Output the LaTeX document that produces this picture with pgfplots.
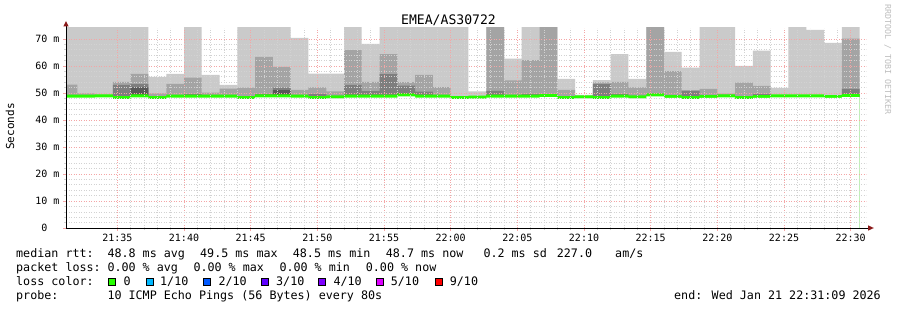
\documentclass[border=0pt]{standalone}
\usepackage{fontspec}
\setmainfont{DejaVu Sans Mono}
\setmonofont{DejaVu Sans Mono}
\usepackage{pgfplots}
\pgfplotsset{compat=1.18}
\usepackage{pgfplotstable}
\definecolor{smokeA}{HTML}{CACACA}
\definecolor{smokeB}{HTML}{A4A4A4}
\definecolor{smokeC}{HTML}{7E7E7E}
\definecolor{smokeD}{HTML}{585858}
\definecolor{lossgreen}{HTML}{26FF00}
\definecolor{gridgray}{HTML}{D2D2D2}
\definecolor{gridred}{HTML}{F4A6A6}
\definecolor{arrowred}{HTML}{8B1A1A}
\definecolor{lossA}{HTML}{00B8FF}
\definecolor{lossB}{HTML}{0059FF}
\definecolor{lossC}{HTML}{5E00FF}
\definecolor{lossD}{HTML}{7E00FF}
\definecolor{lossE}{HTML}{DD00FF}
\definecolor{lossF}{HTML}{FF0000}
\definecolor{wmgray}{HTML}{BDBDBD}
% x = minutes after 21:00; T1..T4 = tops of smoke layers (ms); M = median (ms)
\pgfplotstableread{
x      T1    T2    T3    T4    M
31.15  80    53.1  0     0     48.8
32.00  80    49.9  0     0     48.8
33.33  80    49.4  0     0     48.9
34.67  80    54.1  53.0  0     48.3
36.00  80    57.1  53.3  52.1  48.9
37.33  56.0  49.9  0     0     48.3
38.67  57.1  53.4  0     0     48.8
40.00  80    55.7  49.6  0     48.8
41.33  56.7  50.1  0     0     48.8
42.67  53.0  51.6  0     0     48.8
44.00  80    52.0  0     0     48.3
45.33  80    63.4  49.6  0     48.9
46.67  80    59.7  52.0  51.1  48.9
48.00  70.4  51.2  0     0     48.8
49.33  57.2  52.1  49.6  0     48.3
50.67  57.2  50.6  0     0     48.6
52.00  80    65.9  53.0  0     48.8
53.33  68.2  54.1  50.7  0     48.8
54.67  80    64.4  57.0  0     48.8
56.00  80    54.0  52.7  49.8  49.3
57.33  80    56.7  50.5  0     48.8
58.67  80    52.2  0     0     48.8
60.00  80    0     0     0     48.3
61.33  50.6  0     0     0     48.5
62.67  80    80    50.8  0     48.8
64.00  62.7  54.7  0     0     48.8
65.33  80    62.2  49.6  0     48.8
66.67  80    80    0     0     49.0
68.00  55.2  51.2  0     0     48.3
69.33  49.3  0     0     0     48.6
70.67  54.8  53.9  53.3  0     48.3
72.00  64.4  54.1  49.6  0     48.8
73.33  55.2  52.1  0     0     48.6
74.67  80    80    49.1  0     49.3
76.00  65.2  58.1  0     0     48.7
77.33  59.4  51.1  50.7  0     48.3
78.67  80    51.5  0     0     48.7
80.00  80    49.8  0     0     48.9
81.33  60.0  53.8  0     0     48.3
82.67  65.7  52.6  49.6  0     48.7
84.00  51.9  0     0     0     48.9
85.33  80    0     0     0     48.9
86.67  73.4  0     0     0     48.9
88.00  68.6  0     0     0     48.7
89.33  80    70.1  51.5  0     49.0
90.67  80    70.1  51.5  0     49.0
}\smoke
\begin{document}
\begin{tikzpicture}[x=1bp,y=1bp]
\path[use as bounding box] (0,0) rectangle (897,310);
\begin{axis}[
  at={(66bp,82bp)}, anchor=south west,
  scale only axis, width=800bp, height=200bp,
  xmin=31.15, xmax=91.15, ymin=0, ymax=74.07,
  axis x line*=bottom, axis y line*=left,
  axis line style={line width=0.8bp, black},
  axis on top,
  xtick={35,40,...,90},
  xticklabels={21:35,21:40,21:45,21:50,21:55,22:00,22:05,22:10,22:15,22:20,22:25,22:30},
  minor x tick num=4,
  ytick={0,10,...,70},
  yticklabels={{0\phantom{\ m}},{10\ m},{20\ m},{30\ m},{40\ m},{50\ m},{60\ m},{70\ m}},
  minor y tick num=4,
  grid=both,
  major grid style={draw=gridred, dash pattern=on 1bp off 1.5bp, line width=0.6bp},
  minor grid style={draw=gridgray, dash pattern=on 1bp off 1.5bp, line width=0.6bp},
  tick align=outside,
  major tick length=3bp, minor tick length=2bp,
  major tick style={draw=gridred, line width=0.6bp},
  minor tick style={draw=gridgray, line width=0.6bp},
  xticklabel style={font=\fontsize{10bp}{12bp}\selectfont},
  yticklabel style={font=\fontsize{10bp}{12bp}\selectfont},
]
\addplot[const plot, draw=none, fill=smokeA] table[x=x,y=T1]{\smoke} \closedcycle;
\addplot[const plot, draw=none, fill=smokeB] table[x=x,y=T2]{\smoke} \closedcycle;
\addplot[const plot, draw=none, fill=smokeC] table[x=x,y=T3]{\smoke} \closedcycle;
\addplot[const plot, draw=none, fill=smokeD] table[x=x,y=T4]{\smoke} \closedcycle;
\addplot[const plot, draw=none, fill=lossgreen] table[x=x,y expr=\thisrow{M}+0.55]{\smoke} \closedcycle;
\addplot[const plot, draw=none, fill=white] table[x=x,y expr=\thisrow{M}-0.55]{\smoke} \closedcycle;
\end{axis}
% axis arrows
\draw[line width=0.8bp] (866,82) -- (868,82);
\fill[arrowred] (868,84.7) -- (873.8,82) -- (868,79.3) -- cycle;
\draw[line width=0.8bp] (66,282) -- (66,283.5);
\fill[arrowred] (63.3,283.5) -- (66,289) -- (68.7,283.5) -- cycle;
% title and labels
\node[anchor=base, inner sep=0, font=\fontsize{13.1bp}{15bp}\selectfont] at (448.5,285.3) {EMEA/AS30722};
\node[rotate=90, anchor=base, inner sep=0, font=\fontsize{11bp}{13bp}\selectfont] at (14,183.5) {Seconds};
\node[rotate=-90, anchor=base west, inner sep=0, text=wmgray, font=\fontsize{8.3bp}{10bp}\selectfont] at (885,306) {RRDTOOL / TOBI OETIKER};
% legend
\begin{scope}[every node/.style={anchor=base west, inner sep=0, font=\fontsize{11.7bp}{14bp}\selectfont}]
\node at (16,52.5) {median rtt:};
\node at (107.3,52.5) {48.8 ms avg};
\node at (200,52.5) {49.5 ms max};
\node at (292.7,52.5) {48.5 ms min};
\node at (385.7,52.5) {48.7 ms now};
\node at (483.3,52.5) {0.2 ms sd};
\node at (556.7,52.5) {227.0};
\node at (615,52.5) {am/s};
\node at (16,38.5) {packet loss:};
\node at (107.3,38.5) {0.00 \% avg};
\node at (193.3,38.5) {0.00 \% max};
\node at (279.3,38.5) {0.00 \% min};
\node at (365.7,38.5) {0.00 \% now};
\node at (16,24.5) {loss color:};
\node at (123.3,24.5) {0};
\node at (160,24.5) {1/10};
\node at (218.3,24.5) {2/10};
\node at (276,24.5) {3/10};
\node at (333.3,24.5) {4/10};
\node at (390.7,24.5) {5/10};
\node at (449.7,24.5) {9/10};
\node at (16,10.5) {probe:};
\node at (107.3,10.5) {10 ICMP Echo Pings (56 Bytes) every 80s};
\node[anchor=base east] at (881,10.5) {end: Wed Jan 21 22:31:09 2026};
\end{scope}
\begin{scope}[line width=0.7bp]
\filldraw[fill=lossgreen, draw=black] (108.5,24.5) rectangle +(7,7);
\filldraw[fill=lossA, draw=black] (145.9,24.5) rectangle +(7,7);
\filldraw[fill=lossB, draw=black] (203.5,24.5) rectangle +(7,7);
\filldraw[fill=lossC, draw=black] (261.2,24.5) rectangle +(7,7);
\filldraw[fill=lossD, draw=black] (318.5,24.5) rectangle +(7,7);
\filldraw[fill=lossE, draw=black] (376.2,24.5) rectangle +(7,7);
\filldraw[fill=lossF, draw=black] (435.2,24.5) rectangle +(7,7);
\end{scope}
\end{tikzpicture}
\end{document}
